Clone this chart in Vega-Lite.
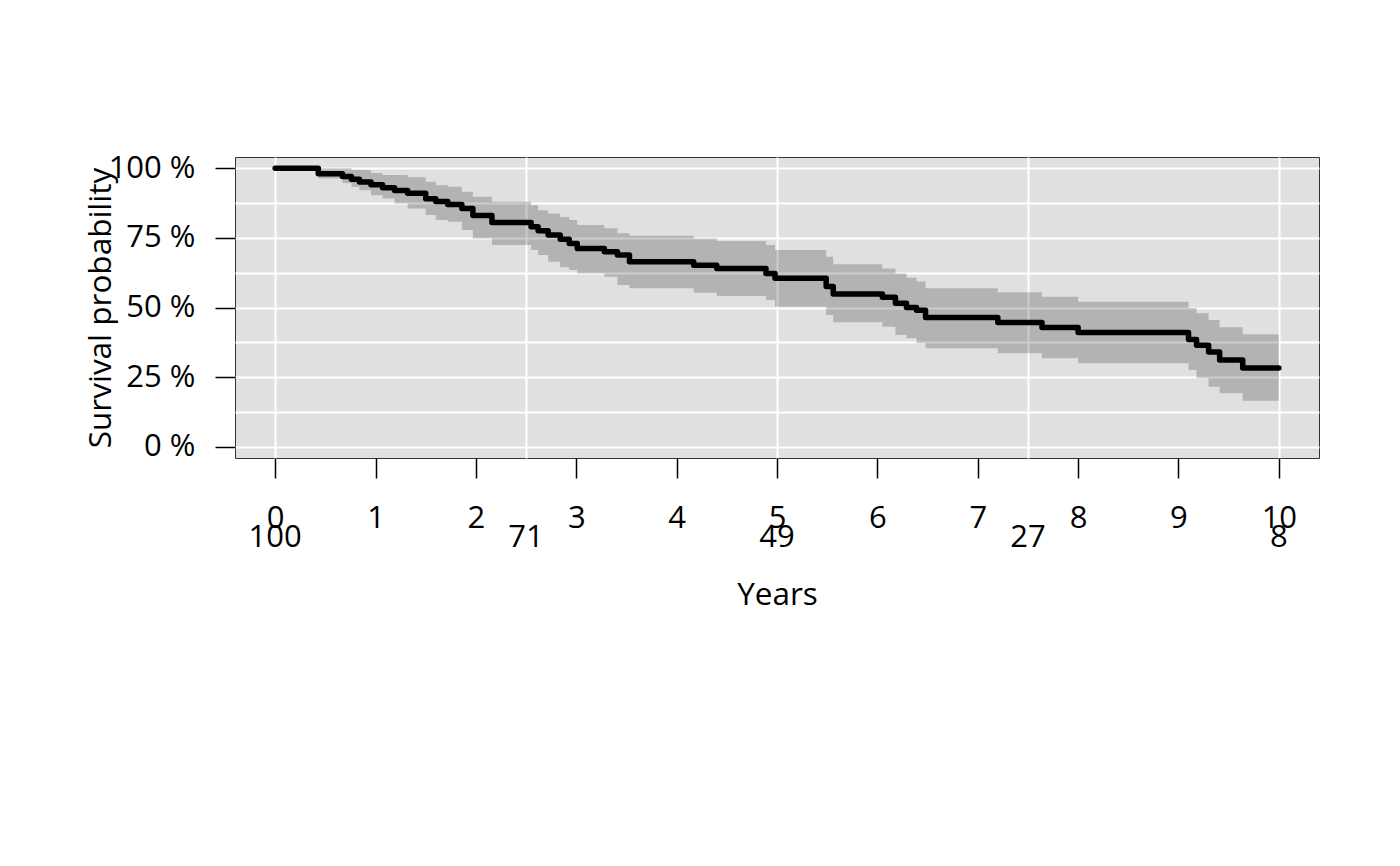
{
  "$schema": "https://vega.github.io/schema/vega-lite/v6.json",
  "width": 1084,
  "height": 301,
  "autosize": {"type": "none"},
  "padding": {"left": 235, "top": 157, "right": 81, "bottom": 408},
  "background": "white",
  "config": {
    "font": "Open Sans",
    "view": {"fill": "#e0e0e0", "stroke": "#333333", "strokeWidth": 1}
  },
  "datasets": {
    "km": [
      {"time": 0, "surv": 1, "lower": 1, "upper": 1},
      {"time": 0.43, "surv": 0.98, "lower": 0.963, "upper": 1},
      {"time": 0.67, "surv": 0.97, "lower": 0.947, "upper": 1},
      {"time": 0.76, "surv": 0.96, "lower": 0.933, "upper": 0.993},
      {"time": 0.84, "surv": 0.95, "lower": 0.921, "upper": 0.993},
      {"time": 0.955, "surv": 0.94, "lower": 0.903, "upper": 0.983},
      {"time": 1.07, "surv": 0.93, "lower": 0.891, "upper": 0.975},
      {"time": 1.19, "surv": 0.92, "lower": 0.873, "upper": 0.975},
      {"time": 1.32, "surv": 0.91, "lower": 0.855, "upper": 0.967},
      {"time": 1.5, "surv": 0.89, "lower": 0.832, "upper": 0.951},
      {"time": 1.6, "surv": 0.88, "lower": 0.814, "upper": 0.939},
      {"time": 1.72, "surv": 0.87, "lower": 0.808, "upper": 0.933},
      {"time": 1.86, "surv": 0.855, "lower": 0.778, "upper": 0.915},
      {"time": 1.97, "surv": 0.83, "lower": 0.748, "upper": 0.897},
      {"time": 2.16, "surv": 0.805, "lower": 0.724, "upper": 0.879},
      {"time": 2.55, "surv": 0.79, "lower": 0.706, "upper": 0.867},
      {"time": 2.62, "surv": 0.775, "lower": 0.688, "upper": 0.849},
      {"time": 2.72, "surv": 0.76, "lower": 0.664, "upper": 0.837},
      {"time": 2.84, "surv": 0.745, "lower": 0.644, "upper": 0.825},
      {"time": 2.93, "surv": 0.73, "lower": 0.635, "upper": 0.814},
      {"time": 3.01, "surv": 0.712, "lower": 0.622, "upper": 0.796},
      {"time": 3.28, "surv": 0.7, "lower": 0.61, "upper": 0.784},
      {"time": 3.41, "surv": 0.688, "lower": 0.581, "upper": 0.766},
      {"time": 3.53, "surv": 0.664, "lower": 0.569, "upper": 0.757},
      {"time": 4.17, "surv": 0.652, "lower": 0.553, "upper": 0.748},
      {"time": 4.4, "surv": 0.64, "lower": 0.541, "upper": 0.739},
      {"time": 4.89, "surv": 0.622, "lower": 0.527, "upper": 0.724},
      {"time": 4.98, "surv": 0.605, "lower": 0.503, "upper": 0.706},
      {"time": 5.49, "surv": 0.575, "lower": 0.473, "upper": 0.682},
      {"time": 5.56, "surv": 0.548, "lower": 0.447, "upper": 0.655},
      {"time": 6.05, "surv": 0.537, "lower": 0.431, "upper": 0.64},
      {"time": 6.18, "surv": 0.515, "lower": 0.401, "upper": 0.622},
      {"time": 6.29, "surv": 0.5, "lower": 0.39, "upper": 0.607},
      {"time": 6.39, "surv": 0.49, "lower": 0.372, "upper": 0.593},
      {"time": 6.48, "surv": 0.464, "lower": 0.354, "upper": 0.569},
      {"time": 7.2, "surv": 0.446, "lower": 0.336, "upper": 0.555},
      {"time": 7.64, "surv": 0.428, "lower": 0.318, "upper": 0.539},
      {"time": 8.0, "surv": 0.41, "lower": 0.3, "upper": 0.521},
      {"time": 9.1, "surv": 0.385, "lower": 0.276, "upper": 0.498},
      {"time": 9.18, "surv": 0.365, "lower": 0.246, "upper": 0.479},
      {"time": 9.3, "surv": 0.34, "lower": 0.216, "upper": 0.455},
      {"time": 9.41, "surv": 0.312, "lower": 0.192, "upper": 0.429},
      {"time": 9.64, "surv": 0.283, "lower": 0.165, "upper": 0.404},
      {"time": 10, "surv": 0.283, "lower": 0.165, "upper": 0.404}
    ],
    "risk": [
      {"time": 0, "n": 100},
      {"time": 2.5, "n": 71},
      {"time": 5, "n": 49},
      {"time": 7.5, "n": 27},
      {"time": 10, "n": 8}
    ]
  },
  "layer": [
    {
      "data": {"name": "km"},
      "mark": {"type": "area", "interpolate": "step-after", "color": "black", "opacity": 0.2},
      "encoding": {
        "x": {
          "field": "time",
          "type": "quantitative",
          "scale": {"domain": [-0.4, 10.4], "nice": false, "zero": false},
          "axis": {
            "orient": "top",
            "values": [0, 2.5, 5, 7.5, 10],
            "grid": true,
            "gridColor": "white",
            "gridWidth": 2,
            "labels": false,
            "ticks": false,
            "domain": false,
            "title": null,
            "zindex": 0
          }
        },
        "y": {
          "field": "lower",
          "type": "quantitative",
          "scale": {"domain": [-0.04, 1.04], "nice": false, "zero": false},
          "axis": {
            "orient": "right",
            "values": [0, 0.125, 0.25, 0.375, 0.5, 0.625, 0.75, 0.875, 1],
            "grid": true,
            "gridColor": "white",
            "gridWidth": 2,
            "labels": false,
            "ticks": false,
            "domain": false,
            "title": null,
            "zindex": 0
          }
        },
        "y2": {"field": "upper"}
      }
    },
    {
      "data": {"name": "km"},
      "mark": {"type": "line", "interpolate": "step-after", "color": "black", "strokeWidth": 5.5, "strokeCap": "round", "strokeJoin": "round"},
      "encoding": {
        "x": {
          "field": "time",
          "type": "quantitative",
          "scale": {"domain": [-0.4, 10.4], "nice": false, "zero": false},
          "axis": {
            "orient": "bottom",
            "values": [0, 1, 2, 3, 4, 5, 6, 7, 8, 9, 10],
            "grid": false,
            "domain": false,
            "tickColor": "black",
            "tickSize": 20,
            "tickWidth": 1.5,
            "labelFontSize": 31,
            "labelColor": "black",
            "labelBaseline": "alphabetic",
            "labelPadding": 49,
            "labelFlush": false,
            "labelOverlap": false,
            "title": "Years",
            "titleFontSize": 31.5,
            "titleFontWeight": "normal",
            "titleColor": "black",
            "titleBaseline": "alphabetic",
            "titleX": 542,
            "titleY": 146
          }
        },
        "y": {
          "field": "surv",
          "type": "quantitative",
          "scale": {"domain": [-0.04, 1.04], "nice": false, "zero": false},
          "axis": {
            "orient": "left",
            "values": [0, 0.25, 0.5, 0.75, 1],
            "grid": false,
            "domain": false,
            "tickColor": "black",
            "tickSize": 20,
            "tickWidth": 1.5,
            "labelFontSize": 31,
            "labelColor": "black",
            "labelBaseline": "middle",
            "labelPadding": 20,
            "labelOverlap": false,
            "labelExpr": "format(datum.value * 100, '.0f') + ' %'",
            "title": "Survival probability",
            "titleFontSize": 31.5,
            "titleFontWeight": "normal",
            "titleColor": "black",
            "titleBaseline": "alphabetic",
            "titleAngle": -90,
            "titleX": -125,
            "titleY": 150.5
          }
        }
      }
    },
    {
      "data": {"name": "risk"},
      "mark": {"type": "text", "fontSize": 31, "color": "black", "baseline": "alphabetic", "align": "center", "clip": false},
      "encoding": {
        "x": {
          "field": "time",
          "type": "quantitative",
          "scale": {"domain": [-0.4, 10.4], "nice": false, "zero": false},
          "axis": null
        },
        "y": {"datum": -0.358, "type": "quantitative", "axis": null},
        "text": {"field": "n", "type": "quantitative"}
      }
    }
  ],
  "resolve": {"axis": {"x": "independent", "y": "independent"}}
}
